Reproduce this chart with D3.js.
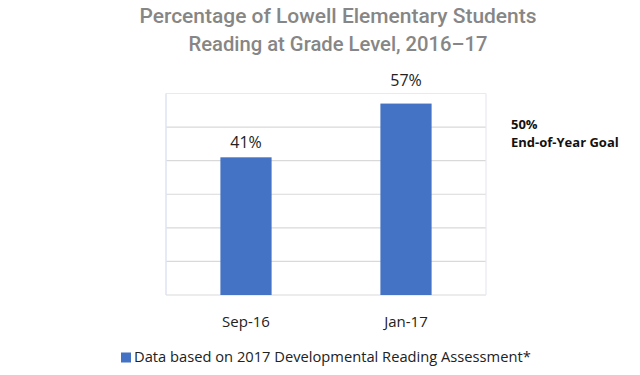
<!DOCTYPE html>
<html><head><meta charset="utf-8">
<script src="https://cdn.jsdelivr.net/npm/d3@7"></script>
<style>body{margin:0;background:#fff}svg{display:block}</style>
</head><body>
<svg id="c" width="640" height="375"></svg>
<script>
const categories = ["Sep-16", "Jan-17"];
const values = [41, 57];
const valueLabels = ["41%", "57%"];
const yTicks = [0, 10, 20, 30, 40, 50, 60];
const titleLines = ["Percentage of Lowell Elementary Students", "Reading at Grade Level, 2016\u201317"];
const goalLines = ["50%", "End-of-Year Goal"];
const legendLabel = "Data based on 2017 Developmental Reading Assessment*";

const svg = d3.select("#c");
const m = {left: 166, right: 486, top: 93.5, bottom: 295};
const x = d3.scaleBand().domain(categories).range([m.left, m.right]).paddingInner(0.68).paddingOuter(0.34);
const y = d3.scaleLinear().domain([0, 60]).range([m.bottom, m.top]);

// title
const titleWidths = [397, 299];
svg.append("g").selectAll("text").data(titleLines).join("text")
  .attr("x", 338).attr("y", (d, i) => 23 + i * 28)
  .attr("text-anchor", "middle")
  .attr("font-family", "Roboto, sans-serif").attr("font-weight", 500)
  .attr("font-size", 20).attr("fill", "#868686")
  .attr("textLength", (d, i) => titleWidths[i]).attr("lengthAdjust", "spacingAndGlyphs")
  .text(d => d);

// gridlines
svg.append("g").selectAll("line").data(yTicks).join("line")
  .attr("x1", m.left).attr("x2", m.right)
  .attr("y1", d => y(d)).attr("y2", d => y(d))
  .attr("stroke", d => d === 60 ? "#e6eaf3" : "#d9d9d9").attr("stroke-width", 1.2);
// frame
svg.append("line").attr("x1", m.left).attr("x2", m.left).attr("y1", m.top).attr("y2", m.bottom)
  .attr("stroke", "#dde3f0").attr("stroke-width", 1.5);
svg.append("line").attr("x1", m.right).attr("x2", m.right).attr("y1", m.top).attr("y2", m.bottom)
  .attr("stroke", "#e6eaf3").attr("stroke-width", 1.2);

// bars
svg.append("g").selectAll("rect").data(values).join("rect")
  .attr("x", (d, i) => x(categories[i]))
  .attr("width", x.bandwidth())
  .attr("y", d => y(d))
  .attr("height", d => y(0) - y(d))
  .attr("fill", "#4472c4");

// value labels (pushed above the plot frame when they would cross it)
const labelSize = 16;
svg.append("g").selectAll("text").data(values).join("text")
  .attr("x", (d, i) => x(categories[i]) + x.bandwidth() / 2)
  .attr("y", d => {
    const base = y(d) - 9.5;
    return (base - labelSize * 0.72 < m.top) ? m.top - 7.5 : base;
  })
  .attr("text-anchor", "middle")
  .attr("font-family", "'Open Sans', sans-serif").attr("font-size", labelSize).attr("fill", "#222")
  .text((d, i) => valueLabels[i]);

// x axis labels
const xa = svg.append("g").attr("transform", `translate(0,${m.bottom})`)
  .call(d3.axisBottom(x).tickSize(0).tickPadding(0));
xa.select(".domain").remove();
xa.selectAll("text").attr("y", 32).attr("dy", 0)
  .attr("font-family", "'Open Sans', sans-serif").attr("font-size", 15).attr("fill", "#222");

// goal annotation
svg.append("g").selectAll("text").data(goalLines).join("text")
  .attr("x", 511).attr("y", (d, i) => 128.5 + i * 18.5)
  .attr("font-family", "'Open Sans', sans-serif").attr("font-weight", "bold")
  .attr("font-size", 13).attr("fill", "#111")
  .text(d => d);

// legend
svg.append("rect").attr("x", 121).attr("y", 352.5).attr("width", 10).attr("height", 10).attr("fill", "#4472c4");
svg.append("text").attr("x", 134).attr("y", 362)
  .attr("font-family", "'Open Sans', sans-serif").attr("font-size", 14.7).attr("fill", "#222")
  .text(legendLabel);
</script>
</body></html>
